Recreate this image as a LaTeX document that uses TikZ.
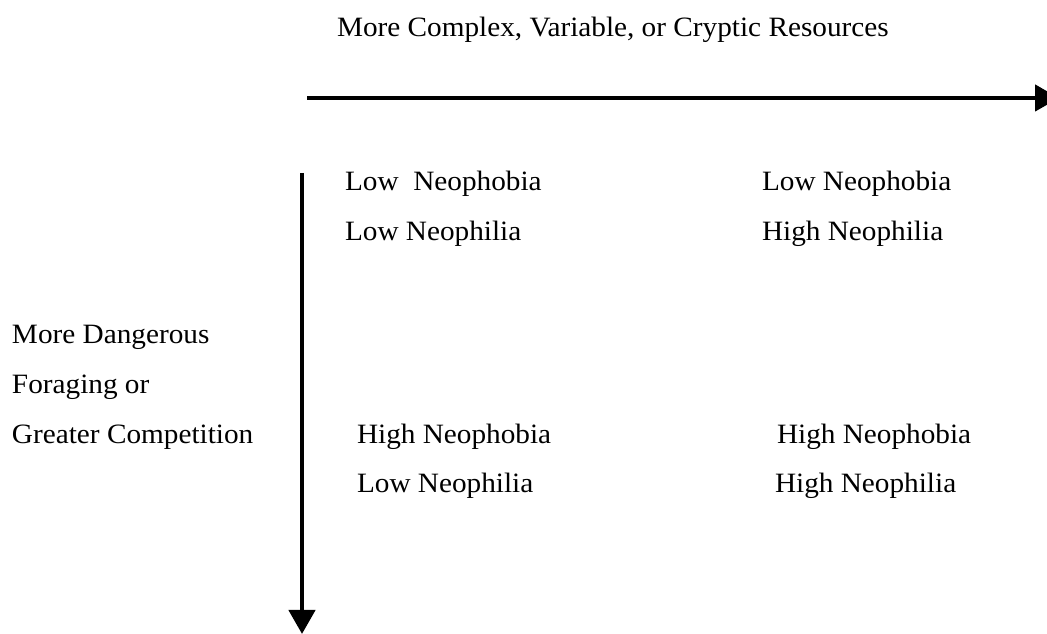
\documentclass[tikz,border=0pt]{standalone}
\usepackage{fontspec}
\setmainfont[FakeStretch=1.045]{Liberation Serif}
\usetikzlibrary{arrows.meta}
\tikzset{
  lbl/.style={anchor=base west, inner sep=0pt, outer sep=0pt, font=\fontsize{28}{32}\selectfont},
  axis/.style={line width=4.5pt, -{Triangle[length=24pt,width=26pt]}}
}
\begin{document}
\begin{tikzpicture}[x=1pt,y=1pt]
\useasboundingbox (0,0) rectangle (1047,634);
\node[lbl] (title) at (337,597) {More Complex, Variable, or Cryptic Resources};
\node[lbl] (a1) at (345,443) {Low\ \ Neophobia};
\node[lbl] (a2) at (345,393) {Low Neophilia};
\node[lbl] (b1) at (762,443) {Low Neophobia};
\node[lbl] (b2) at (762,393) {High Neophilia};
\node[lbl] (l1) at (12,290) {More Dangerous};
\node[lbl] (l2) at (12,240) {Foraging or};
\node[lbl] (l3) at (12,190) {Greater Competition};
\node[lbl] (c1) at (357,190) {High Neophobia};
\node[lbl] (c2) at (357,141) {Low Neophilia};
\node[lbl] (d1) at (777,190) {High Neophobia};
\node[lbl] (d2) at (775,141) {High Neophilia};
\coordinate (h1) at (307,536);
\coordinate (h2) at (1059,536);
\coordinate (v1) at (302,461);
\coordinate (v2) at (302,0);
\draw[axis] (h1) -- (h2);
\draw[axis] (v1) -- (v2);
\end{tikzpicture}
\end{document}
